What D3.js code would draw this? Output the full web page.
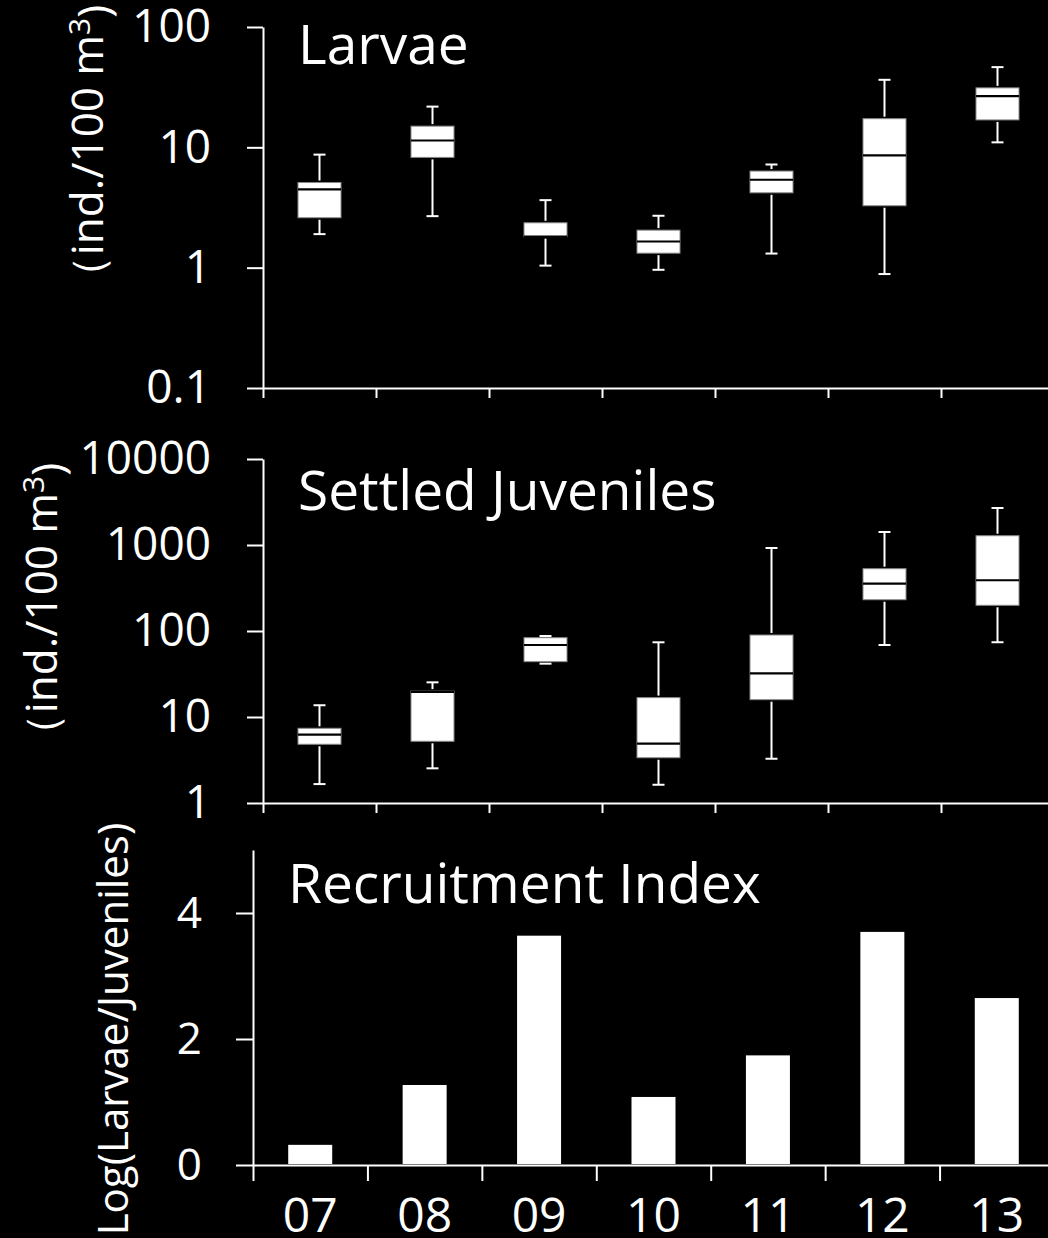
<!DOCTYPE html>
<html>
<head>
<meta charset="utf-8">
<script src="https://cdn.jsdelivr.net/npm/d3@7/dist/d3.min.js"></script>
<style>
  html, body { margin: 0; padding: 0; background: #000; }
  svg { display: block; }
  text { font-family: "Open Sans", "Noto Sans", sans-serif; fill: #fff; }
</style>
</head>
<body>
<svg id="chart" width="1048" height="1238"></svg>
<script>
// Sampling years
const years = ["07", "08", "09", "10", "11", "12", "13"];

// Larvae density (ind./100 m3): whisker ends, quartiles, median
const larvaeLow    = [1.9, 2.68, 1.04, 0.96, 1.31, 0.885, 11.0];
const larvaeQ1     = [2.6, 8.25, 1.81, 1.32, 4.19, 3.27, 16.9];
const larvaeMedian = [4.47, 11.4, 1.81, 1.65, 5.38, 8.58, 26.6];
const larvaeQ3     = [5.1, 15.0, 2.36, 2.05, 6.35, 17.3, 31.2];
const larvaeHigh   = [8.7, 21.8, 3.64, 2.7, 7.2, 36.4, 46.4];

// Settled juveniles density (ind./100 m3)
const juvLow    = [1.66, 2.53, 41.7, 1.63, 3.27, 68.7, 74];
const juvQ1     = [4.82, 5.22, 44, 3.36, 15.9, 231, 199];
const juvMedian = [6.23, 19.6, 68.7, 4.89, 32.2, 355, 389];
const juvQ3     = [7.39, 20.0, 83.6, 16.8, 89.8, 530, 1282];
const juvHigh   = [13.7, 25.3, 87.5, 73.9, 923, 1416, 2692];

// Recruitment index, log(larvae/juveniles)
const recruitment = [0.32, 1.27, 3.64, 1.08, 1.74, 3.70, 2.65];

// Axis tick values
const larvaeTicks = [0.1, 1, 10, 100];
const juvTicks = [1, 10, 100, 1000, 10000];
const recruitTicks = [0, 2, 4];

const svg = d3.select("#chart");
svg.append("rect").attr("width", 1048).attr("height", 1238).attr("fill", "#000");

const AXIS = "#ffffff";

function styleAxis(g) {
  g.selectAll("path, line").attr("stroke", AXIS).attr("stroke-width", 2);
  g.selectAll("text").attr("fill", "#fff");
}

function fmtNum(v) { return String(v); }

function boxPanel(cfg) {
  const x = d3.scaleBand().domain(years).range([cfg.left, cfg.right]);
  const xEdge = d3.scaleLinear().domain([0, years.length]).range([cfg.left, cfg.right]);
  const y = d3.scaleLog().domain(cfg.domain).range([cfg.bottom, cfg.top]);

  // y axis
  const ya = svg.append("g").attr("transform", `translate(${cfg.left},0)`)
    .call(d3.axisLeft(y).tickValues(cfg.ticks).tickFormat(fmtNum)
      .tickSize(16).tickSizeOuter(0).tickPadding(36));
  ya.selectAll("text").style("font-size", "46px");
  styleAxis(ya);

  // x axis with ticks between categories
  const xa = svg.append("g").attr("transform", `translate(0,${cfg.bottom})`)
    .call(d3.axisBottom(xEdge).tickValues(d3.range(0, years.length)).tickFormat("")
      .tickSize(10).tickSizeOuter(0));
  styleAxis(xa);

  const bw = 43, cap = 12;
  const data = years.map((yr, i) => ({
    yr, low: cfg.low[i], q1: cfg.q1[i], med: cfg.med[i], q3: cfg.q3[i], high: cfg.high[i]
  }));
  const g = svg.append("g");
  const box = g.selectAll("g.box").data(data).join("g")
    .attr("transform", d => `translate(${x(d.yr) + x.bandwidth() / 2},0)`);

  // whiskers
  box.append("line").attr("x1", 0).attr("x2", 0)
    .attr("y1", d => y(d.high)).attr("y2", d => y(d.q3) - 2)
    .attr("stroke", "#fff").attr("stroke-width", 2);
  box.append("line").attr("x1", 0).attr("x2", 0)
    .attr("y1", d => y(d.q1) + 2).attr("y2", d => y(d.low))
    .attr("stroke", "#fff").attr("stroke-width", 2);
  // caps
  box.append("line").attr("x1", -cap / 2).attr("x2", cap / 2)
    .attr("y1", d => y(d.high)).attr("y2", d => y(d.high))
    .attr("stroke", "#fff").attr("stroke-width", 2);
  box.append("line").attr("x1", -cap / 2).attr("x2", cap / 2)
    .attr("y1", d => y(d.low)).attr("y2", d => y(d.low))
    .attr("stroke", "#fff").attr("stroke-width", 2);
  // box
  box.append("rect").attr("x", -bw / 2).attr("width", bw)
    .attr("y", d => y(d.q3)).attr("height", d => y(d.q1) - y(d.q3))
    .attr("fill", "#fff").attr("stroke", "#8a8a8a").attr("stroke-width", 1);
  // median
  box.append("line").attr("x1", -bw / 2).attr("x2", bw / 2)
    .attr("y1", d => y(d.med)).attr("y2", d => y(d.med))
    .attr("stroke", "#000").attr("stroke-width", 2.2);

  // panel title
  svg.append("text").attr("x", cfg.titleX).attr("y", cfg.titleY)
    .style("font-size", "55px").text(cfg.title);
}

boxPanel({
  left: 263, right: 1054, top: 27, bottom: 388,
  domain: [0.1, 100], ticks: larvaeTicks,
  low: larvaeLow, q1: larvaeQ1, med: larvaeMedian, q3: larvaeQ3, high: larvaeHigh,
  title: "Larvae", titleX: 298, titleY: 64
});

boxPanel({
  left: 263, right: 1054, top: 459, bottom: 803,
  domain: [1, 10000], ticks: juvTicks,
  low: juvLow, q1: juvQ1, med: juvMedian, q3: juvQ3, high: juvHigh,
  title: "Settled Juveniles", titleX: 298, titleY: 510
});

// Recruitment index bar panel
(function () {
  const left = 253, right = 1054, top = 850, bottom = 1165;
  const x = d3.scaleBand().domain(years).range([left, right]);
  const xEdge = d3.scaleLinear().domain([0, years.length]).range([left, right]);
  const y = d3.scaleLinear().domain([0, 5]).range([bottom, top]);

  const ya = svg.append("g").attr("transform", `translate(${left},0)`)
    .call(d3.axisLeft(y).tickValues(recruitTicks).tickFormat(fmtNum)
      .tickSize(17).tickSizeOuter(0).tickPadding(34));
  ya.selectAll("text").style("font-size", "44px");
  styleAxis(ya);

  const xa = svg.append("g").attr("transform", `translate(0,${bottom})`)
    .call(d3.axisBottom(xEdge).tickValues(d3.range(0, years.length)).tickFormat("")
      .tickSize(16).tickSizeOuter(0));
  styleAxis(xa);

  const xl = svg.append("g").attr("transform", `translate(0,${bottom})`)
    .call(d3.axisBottom(x).tickSize(0).tickPadding(33));
  xl.select(".domain").remove();
  xl.selectAll("text").style("font-size", "48px").attr("fill", "#fff");

  const bw = 44;
  svg.append("g").selectAll("rect").data(years.map((yr, i) => ({ yr, v: recruitment[i] })))
    .join("rect")
    .attr("x", d => x(d.yr) + x.bandwidth() / 2 - bw / 2)
    .attr("width", bw)
    .attr("y", d => y(d.v))
    .attr("height", d => y(0) - y(d.v) - 1)
    .attr("fill", "#fff");

  svg.append("text").attr("x", 288).attr("y", 903)
    .style("font-size", "55px").text("Recruitment Index");
})();

// Rotated y-axis titles
function unitLabel(cx, cy) {
  const t = svg.append("text")
    .attr("transform", `translate(${cx},${cy}) rotate(-90)`)
    .attr("text-anchor", "middle")
    .style("font-size", "44px");
  t.append("tspan").text("\uFF08ind./100 m");
  t.append("tspan").attr("dy", "-0.42em").style("font-size", "30px").text("3");
  t.append("tspan").attr("dy", "0.42em").text(")");
}
unitLabel(103, 152);
unitLabel(57, 610);

svg.append("text")
  .attr("transform", "translate(128,1029) rotate(-90)")
  .attr("text-anchor", "middle")
  .style("font-size", "42px")
  .text("Log(Larvae/Juveniles)");
</script>
</body>
</html>
